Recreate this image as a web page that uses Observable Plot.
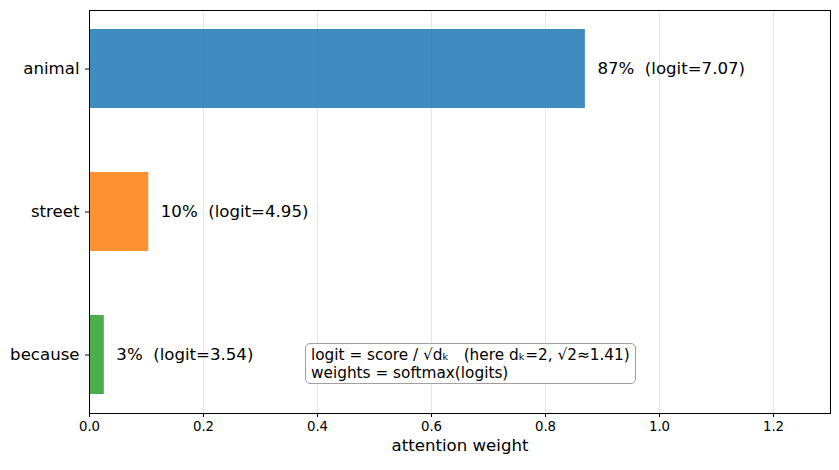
<!DOCTYPE html>
<html><head><meta charset="utf-8">
<script src="https://cdn.jsdelivr.net/npm/d3@7"></script>
<script src="https://cdn.jsdelivr.net/npm/@observablehq/plot@0.6"></script>
<style>
body{margin:0;background:#fff;font-family:"DejaVu Sans",sans-serif;}
#wrap{position:relative;width:839px;height:470px;}
#note{position:absolute;left:305px;top:343px;border:1px solid #a0a0a0;border-radius:5px;padding:2px 5px 1px 5px;font-size:15.3px;line-height:18px;white-space:pre;color:#000;background:#fff;}
</style></head>
<body><div id="wrap"></div>
<script>
const tokens = ["animal", "street", "because"];
const weights = [0.870, 0.104, 0.026];
const logits = [7.07, 4.95, 3.54];
const colors = ["#1f77b4", "#ff7f0e", "#2ca02c"];
const xTicks = [0, 0.2, 0.4, 0.6, 0.8, 1.0, 1.2];
const noteText = "logit = score / √dₖ   (here dₖ=2, √2≈1.41)\nweights = softmax(logits)";

const data = tokens.map((t, i) => ({token: t, weight: weights[i], logit: logits[i], color: colors[i]}));

const chart = Plot.plot({
  width: 839, height: 470,
  marginLeft: 89, marginRight: 9, marginTop: 10, marginBottom: 57,
  style: {fontFamily: "DejaVu Sans, sans-serif", color: "#000", background: "#fff"},
  x: {domain: [0, 1.3]},
  y: {domain: tokens, paddingInner: 0.45, paddingOuter: 0.127},
  marks: [
    Plot.gridX(xTicks, {stroke: "#000", strokeOpacity: 0.1}),
    Plot.barX(data, {x: "weight", y: "token", fill: d => d.color, fillOpacity: 0.85}),
    Plot.text(data, {x: "weight", y: "token", text: d => `${Math.round(d.weight * 100)}%  (logit=${d.logit.toFixed(2)})`, textAnchor: "start", dx: 12, fontSize: 16.6, fill: "#000"}),
    Plot.axisX(xTicks, {tickFormat: d => d.toFixed(1), fontSize: 13.3, tickSize: 4, tickPadding: 4, label: null}),
    Plot.axisY({fontSize: 16.6, tickSize: 4, tickPadding: 6, label: null}),
    Plot.text(["attention weight"], {frameAnchor: "bottom", dy: 37, fontSize: 16.6, fill: "#000"}),
    Plot.frame({stroke: "#000"})
  ]
});
document.getElementById("wrap").appendChild(chart);
const note = document.createElement("div");
note.id = "note";
note.textContent = noteText;
document.getElementById("wrap").appendChild(note);
</script></body></html>
